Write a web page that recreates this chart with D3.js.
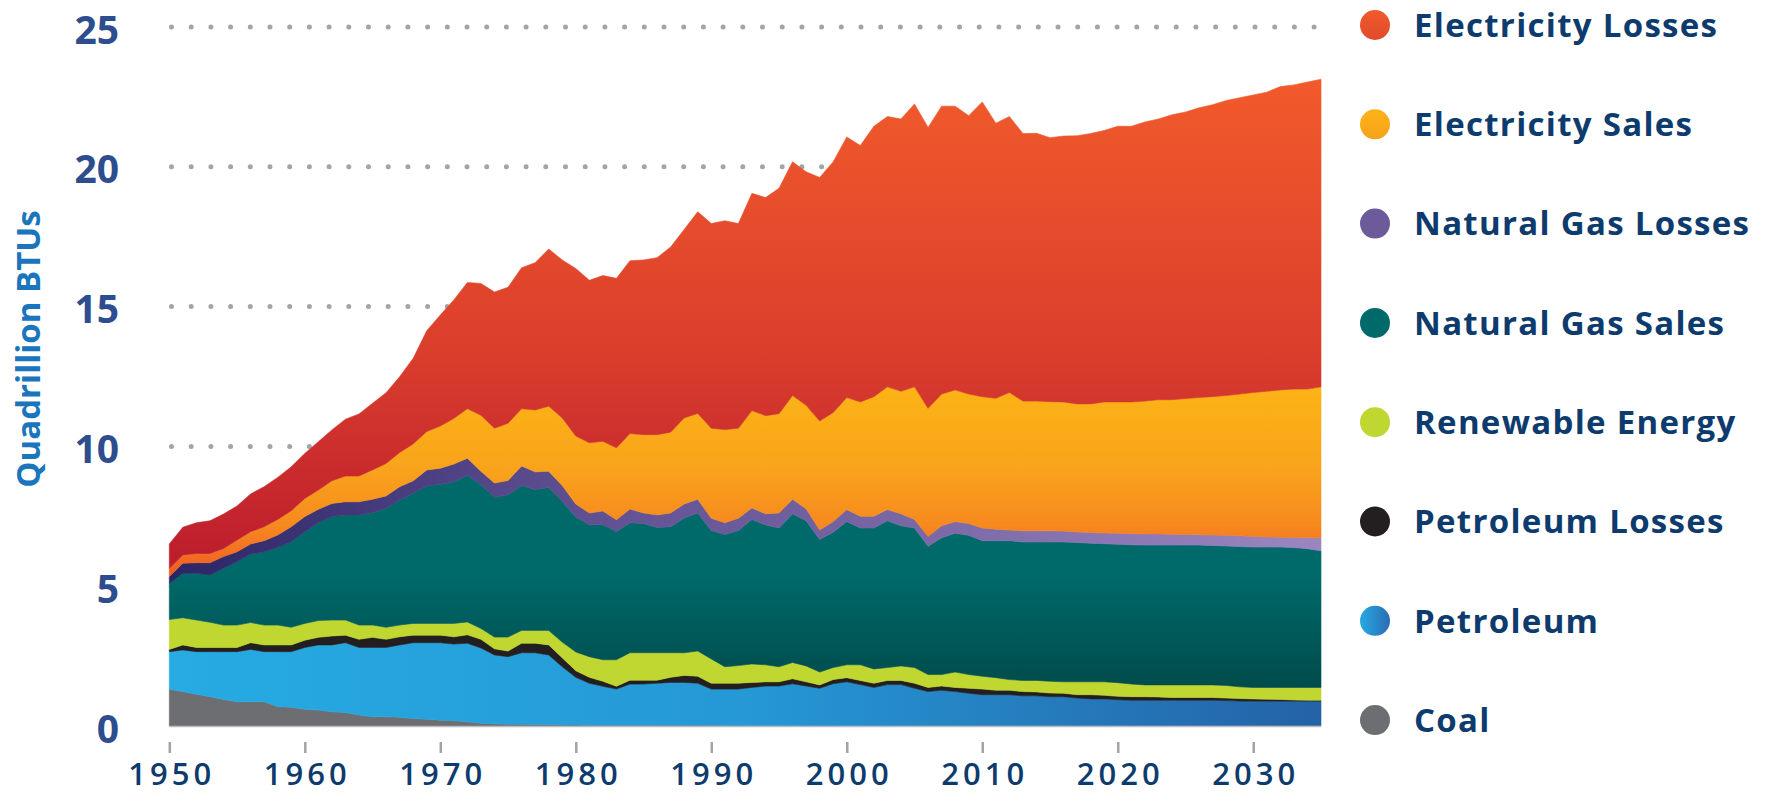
<!DOCTYPE html>
<html>
<head>
<meta charset="utf-8">
<script src="https://cdn.jsdelivr.net/npm/d3@7"></script>
<style>
  html, body { margin: 0; padding: 0; background: #fff; }
  svg { display: block; font-family: "Open Sans", sans-serif; }
</style>
</head>
<body>
<svg id="chart" width="1765" height="794"></svg>
<script>
// years on the x axis
var years = d3.range(1950, 2036);

// quadrillion BTUs, one value per year 1950-2035
var coal = [
  1.31,1.23,1.14,1.05,0.95,0.87,0.87,0.87,0.69,0.67,
  0.60,0.57,0.51,0.48,0.39,0.33,0.33,0.31,0.27,0.24,
  0.21,0.19,0.15,0.10,0.08,0.06,0.06,0.05,0.05,0.04,
  0.04,0.03,0.03,0.03,0.03,0.03,0.03,0.03,0.03,0.03,
  0.03,0.02,0.02,0.01,0.01,0.01,0.01,0.01,0.01,0.01,
  0.01,0.01,0.01,0.01,0.01,0.01,0.01,0.01,0.01,0.01,
  0.01,0.01,0.01,0.01,0.01,0.01,0.01,0.01,0.01,0.01,
  0.01,0.01,0.01,0.01,0.01,0.01,0.01,0.01,0.01,0.01,
  0.01,0.01,0.01,0.01,0.01,0.01];
var petroleum = [
  1.35,1.49,1.52,1.61,1.71,1.79,1.87,1.79,1.97,1.99,
  2.21,2.33,2.39,2.50,2.42,2.48,2.48,2.59,2.71,2.74,
  2.77,2.74,2.81,2.69,2.46,2.42,2.56,2.57,2.49,2.08,
  1.70,1.50,1.39,1.29,1.47,1.47,1.50,1.53,1.53,1.50,
  1.29,1.30,1.30,1.37,1.42,1.42,1.50,1.42,1.34,1.50,
  1.57,1.47,1.37,1.47,1.47,1.34,1.22,1.27,1.22,1.16,
  1.11,1.11,1.11,1.07,1.07,1.04,1.04,0.99,0.96,0.96,
  0.93,0.91,0.91,0.91,0.91,0.91,0.91,0.91,0.90,0.88,
  0.88,0.88,0.88,0.88,0.88,0.88];
var petroleumLosses = [
  0.08,0.18,0.15,0.15,0.15,0.15,0.24,0.24,0.24,0.24,
  0.26,0.27,0.32,0.27,0.29,0.36,0.29,0.29,0.27,0.27,
  0.27,0.26,0.30,0.31,0.22,0.20,0.34,0.34,0.36,0.32,
  0.24,0.21,0.18,0.10,0.14,0.14,0.11,0.18,0.25,0.25,
  0.21,0.21,0.21,0.18,0.15,0.15,0.18,0.15,0.12,0.15,
  0.15,0.15,0.15,0.15,0.15,0.18,0.15,0.15,0.15,0.18,
  0.20,0.16,0.16,0.15,0.14,0.13,0.12,0.12,0.15,0.13,
  0.12,0.13,0.13,0.12,0.10,0.10,0.10,0.10,0.09,0.09,
  0.08,0.07,0.06,0.04,0.03,0.03];
var renewable = [
  1.07,0.97,0.98,0.90,0.80,0.80,0.72,0.71,0.71,0.63,
  0.60,0.60,0.57,0.54,0.51,0.44,0.43,0.42,0.42,0.42,
  0.42,0.48,0.46,0.39,0.42,0.50,0.46,0.46,0.52,0.56,
  0.67,0.74,0.77,0.95,0.98,0.98,0.98,0.88,0.81,0.90,
  0.87,0.59,0.63,0.66,0.61,0.54,0.58,0.57,0.46,0.43,
  0.46,0.56,0.51,0.46,0.52,0.56,0.46,0.41,0.55,0.49,
  0.46,0.45,0.38,0.40,0.41,0.42,0.41,0.46,0.46,0.48,
  0.49,0.45,0.42,0.43,0.45,0.45,0.45,0.45,0.45,0.42,
  0.41,0.42,0.43,0.45,0.46,0.46];
var gasSales = [
  1.29,1.59,1.67,1.69,2.03,2.27,2.45,2.62,2.78,3.06,
  3.28,3.50,3.70,3.76,3.94,4.02,4.26,4.47,4.65,4.91,
  4.98,5.07,5.25,5.15,5.00,5.09,5.18,5.04,5.11,5.04,
  4.83,4.72,4.83,4.59,4.65,4.62,4.48,4.51,4.82,4.94,
  4.59,4.73,4.83,5.17,5.00,4.96,5.32,5.19,4.74,4.84,
  5.12,4.89,5.04,5.25,5.01,4.99,4.59,4.89,4.96,4.98,
  4.85,4.90,4.97,4.95,4.95,4.98,5.00,4.98,4.96,4.94,
  4.95,4.98,5.00,5.00,5.00,5.00,5.00,4.99,4.99,5.02,
  5.02,5.02,5.02,5.00,4.96,4.89];
var gasLosses = [
  0.24,0.36,0.38,0.44,0.42,0.35,0.36,0.40,0.44,0.54,
  0.54,0.48,0.47,0.47,0.47,0.48,0.44,0.48,0.45,0.58,
  0.57,0.63,0.61,0.47,0.51,0.51,0.70,0.63,0.58,0.56,
  0.46,0.42,0.49,0.42,0.49,0.38,0.45,0.49,0.50,0.49,
  0.44,0.42,0.44,0.41,0.40,0.54,0.52,0.43,0.34,0.38,
  0.43,0.42,0.42,0.40,0.43,0.31,0.35,0.43,0.42,0.42,
  0.45,0.41,0.38,0.40,0.40,0.40,0.39,0.38,0.38,0.38,
  0.39,0.40,0.40,0.40,0.39,0.38,0.37,0.37,0.38,0.38,
  0.38,0.36,0.35,0.36,0.39,0.46];
var elecSales = [
  0.30,0.30,0.33,0.33,0.29,0.42,0.44,0.50,0.56,0.57,
  0.65,0.69,0.81,0.92,0.92,1.05,1.16,1.22,1.32,1.37,
  1.51,1.63,1.77,2.00,1.96,2.05,2.05,2.21,2.33,2.42,
  2.43,2.51,2.49,2.57,2.70,2.80,2.87,2.89,3.08,3.07,
  3.22,3.33,3.22,3.48,3.51,3.55,3.71,3.70,3.90,3.90,
  4.01,4.09,4.28,4.39,4.38,4.74,4.58,4.71,4.71,4.63,
  4.70,4.68,4.92,4.64,4.64,4.62,4.62,4.58,4.60,4.69,
  4.70,4.71,4.75,4.80,4.81,4.86,4.91,4.95,5.00,5.07,
  5.15,5.21,5.27,5.31,5.32,5.40];
var elecLosses = [
  0.87,0.99,1.10,1.17,1.23,1.22,1.35,1.43,1.50,1.57,
  1.61,1.73,1.82,2.03,2.22,2.38,2.53,2.71,3.06,3.61,
  3.97,4.24,4.51,4.72,4.87,4.86,5.04,5.27,5.62,5.65,
  5.99,5.81,5.93,6.06,6.18,6.25,6.33,6.62,6.74,7.21,
  7.32,7.47,7.32,7.77,7.80,8.06,8.36,8.35,8.71,8.97,
  9.32,9.17,9.67,9.67,9.74,10.12,10.05,10.30,10.15,9.96,
  10.54,9.84,9.87,9.57,9.58,9.44,9.51,9.59,9.67,9.71,
  9.86,9.86,9.98,10.04,10.19,10.25,10.36,10.44,10.55,10.60,
  10.64,10.70,10.85,10.88,10.98,11.00];

// stack order, bottom to top
var keys = ['coal', 'petroleum', 'petroleumLosses', 'renewable',
            'gasSales', 'gasLosses', 'elecSales', 'elecLosses'];
var series = {coal: coal, petroleum: petroleum, petroleumLosses: petroleumLosses,
  renewable: renewable, gasSales: gasSales, gasLosses: gasLosses,
  elecSales: elecSales, elecLosses: elecLosses};

// legend, top to bottom
var legendKeys = ['elecLosses', 'elecSales', 'gasLosses', 'gasSales',
                  'renewable', 'petroleumLosses', 'petroleum', 'coal'];
var legendLabels = ['Electricity Losses', 'Electricity Sales', 'Natural Gas Losses',
  'Natural Gas Sales', 'Renewable Energy', 'Petroleum Losses', 'Petroleum', 'Coal'];

var yTicks = [0, 5, 10, 15, 20, 25];
var xTicks = [1950, 1960, 1970, 1980, 1990, 2000, 2010, 2020, 2030];

var table = years.map(function(yr, i) {
  var row = {year: yr};
  keys.forEach(function(k) { row[k] = series[k][i]; });
  return row;
});

var svg = d3.select('#chart');
var x = d3.scaleLinear().domain([1950, 2035]).range([169.3, 1321]);
var y = d3.scaleLinear().domain([0, 25]).range([726, 27]);

/* gradients */
var defs = svg.append('defs');
function grad(id, dir, a, b, stops, units) {
  var g = defs.append('linearGradient').attr('id', id);
  if (units) {
    g.attr('gradientUnits', 'userSpaceOnUse');
    if (dir == 'v') g.attr('x1', 0).attr('x2', 0).attr('y1', a).attr('y2', b);
    else g.attr('y1', 0).attr('y2', 0).attr('x1', a).attr('x2', b);
  } else {
    if (dir == 'v') g.attr('x1', 0).attr('x2', 0).attr('y1', 0).attr('y2', 1);
    else g.attr('y1', 0).attr('y2', 0).attr('x1', 0).attr('x2', 1);
  }
  stops.forEach(function(s) {
    g.append('stop').attr('offset', s[0]).attr('stop-color', s[1]);
  });
}
grad('gElecLoss', 'v', y(23), y(6), [[0, '#f15a2b'], [0.55, '#db3f2c'], [1, '#bd1e2d']], true);
grad('gElecSales', 'v', y(12.2), y(5.5), [[0, '#fcb415'], [0.45, '#f9a31b'], [0.75, '#f6891f'], [1, '#f15d24']], true);
grad('gGasLoss', 'h', x(1950), x(2035), [[0, '#2a2566'], [0.35, '#5f4f91'], [1, '#9a86c0']], true);
grad('gGasSales', 'v', y(5.5), y(1.2), [[0, '#006a6a'], [1, '#004a4a']], true);
grad('gPetro', 'h', x(1950), x(2035), [[0, '#26abe2'], [0.5, '#2598d5'], [1, '#2462a7']], true);
grad('lElecLoss', 'v', 0, 0, [[0, '#f15a2b'], [1, '#e04a2c']], false);
grad('lElecSales', 'v', 0, 0, [[0, '#fbb317'], [1, '#f9a11b']], false);
grad('lPetro', 'h', 0, 0, [[0, '#27aae1'], [1, '#2b6cb3']], false);

var fills = {
  coal: '#6d6e71', petroleum: 'url(#gPetro)', petroleumLosses: '#231f20',
  renewable: '#bfd730', gasSales: 'url(#gGasSales)', gasLosses: 'url(#gGasLoss)',
  elecSales: 'url(#gElecSales)', elecLosses: 'url(#gElecLoss)'
};
var legendFills = {
  coal: '#6d6e71', petroleum: 'url(#lPetro)', petroleumLosses: '#231f20',
  renewable: '#bfd730', gasSales: '#006a6a', gasLosses: '#6b5b9b',
  elecSales: 'url(#lElecSales)', elecLosses: 'url(#lElecLoss)'
};

/* dotted grid lines */
svg.append('g').selectAll('line')
  .data(yTicks.filter(function(d) { return d > 0; }))
  .enter().append('line')
  .attr('x1', 171.5).attr('x2', 1322)
  .attr('y1', function(d) { return y(d); })
  .attr('y2', function(d) { return y(d); })
  .style('stroke', '#a2a4a7')
  .style('stroke-width', 5)
  .style('stroke-linecap', 'round')
  .style('stroke-dasharray', '0 19.7');

/* stacked areas */
var stack = d3.stack().keys(keys);
var layers = stack(table);
var area = d3.area()
  .x(function(d) { return x(d.data.year); })
  .y0(function(d) { return y(d[0]); })
  .y1(function(d) { return y(d[1]); });

svg.append('g').selectAll('path')
  .data(layers)
  .enter().append('path')
  .attr('d', area)
  .style('fill', function(d) { return fills[d.key]; })
  .style('stroke', function(d) { return fills[d.key]; })
  .style('stroke-width', 0.6);

// thin frame on bottom of the area
svg.append('line')
  .attr('x1', x(1950)).attr('x2', x(2035)).attr('y1', y(0) + 0.5).attr('y2', y(0) + 0.5)
  .style('stroke', '#b9bbbe').style('stroke-width', 1.5);

/* y axis */
var yAxis = svg.append('g')
  .attr('transform', 'translate(119,0)')
  .call(d3.axisLeft(y).tickValues(yTicks).tickSize(0).tickPadding(0));
yAxis.select('.domain').remove();
yAxis.selectAll('text')
  .attr('dy', '0.41em')
  .style('font-family', '"Open Sans", sans-serif')
  .style('font-size', '39px')
  .style('font-weight', 700)
  .style('fill', '#2e4d8e');

/* x axis */
var xAxis = svg.append('g')
  .attr('transform', 'translate(0,742)')
  .call(d3.axisBottom(x).tickValues(xTicks).tickFormat(d3.format('d')).tickSize(11).tickPadding(10));
xAxis.select('.domain').remove();
xAxis.selectAll('line').style('stroke', '#a3a3a3').style('stroke-width', 2.5);
xAxis.selectAll('text')
  .attr('dx', '2px')
  .style('font-family', '"Open Sans", sans-serif')
  .style('font-size', '31px')
  .style('font-weight', 600)
  .style('letter-spacing', '4px')
  .style('fill', '#0e3b6d');

/* y axis title */
svg.append('text')
  .attr('transform', 'translate(39.5,349) rotate(-90)')
  .attr('text-anchor', 'middle')
  .style('font-size', '33px')
  .style('font-weight', 700)
  .style('fill', '#1a75bc')
  .text('Quadrillion BTUs');

/* legend */
var legend = svg.append('g').selectAll('g')
  .data(legendKeys)
  .enter().append('g')
  .attr('transform', function(d, i) { return 'translate(1375,' + (25 + i * 99.3) + ')'; });
legend.append('circle')
  .attr('r', 15)
  .style('fill', function(d) { return legendFills[d]; });
legend.append('text')
  .attr('x', 39)
  .attr('y', 11.7)
  .style('font-size', '33px')
  .style('font-weight', 700)
  .style('letter-spacing', '1.3px')
  .style('fill', '#0e3b6d')
  .text(function(d, i) { return legendLabels[i]; });
</script>
</body>
</html>
